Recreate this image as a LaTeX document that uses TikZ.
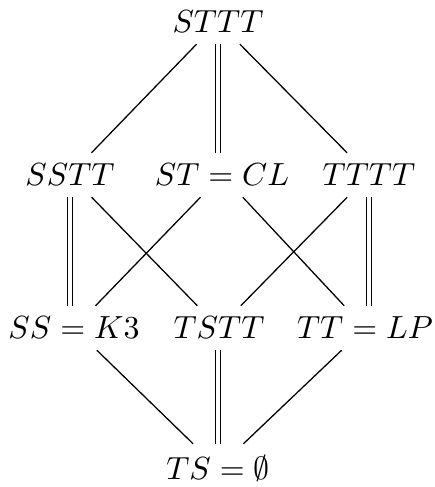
\documentclass[tikz,border=0pt]{standalone}
\usepackage{amssymb}
\usepackage{amsmath}
\usepackage{tikz}

\begin{document}
\begin{tikzpicture}[x=0.3125pt, y=-0.3125pt]

    \useasboundingbox (0,0) rectangle (435,487);

    \node[] (sttt) at (218,22) {$STTT$};

    \node[] (sstt) at (70,175) {$SSTT$};
    \node[] (stcl) at (222,175) {$ST = CL$};
    \node[] (tttt) at (369,175) {$TTTT$};

    \node[] (ssk) at (74,328) {$SS = K3$};
    \node[] (tstt) at (219,328) {$TSTT$};
    \node[] (ttlp) at (365,328) {$TT = LP$};

    \node[] (ts) at (218,468) {$TS = \emptyset$};

    \path[every edge/.style={draw, line width=0.4pt},
          dbl/.style={double, double distance=1.2pt}]
    % top
    (sttt) edge [] (sstt)
    (sttt.south) edge [dbl] (stcl.north -| sttt.south)
    (sttt) edge [] (tttt)
    % middle
    (sstt.south) edge [dbl] (ssk.north -| sstt.south)
    (sstt) edge [] (tstt)
    (stcl) edge [] (ssk)
    (stcl) edge [] (ttlp)
    (tttt) edge [] (tstt)
    (tttt.south) edge [dbl] (ttlp.north -| tttt.south)
    % bottom
    (ssk) edge [] (ts)
    (tstt.south -| ts.north) edge [dbl] (ts.north)
    (ttlp) edge [] (ts) ;

\end{tikzpicture}
\end{document}
